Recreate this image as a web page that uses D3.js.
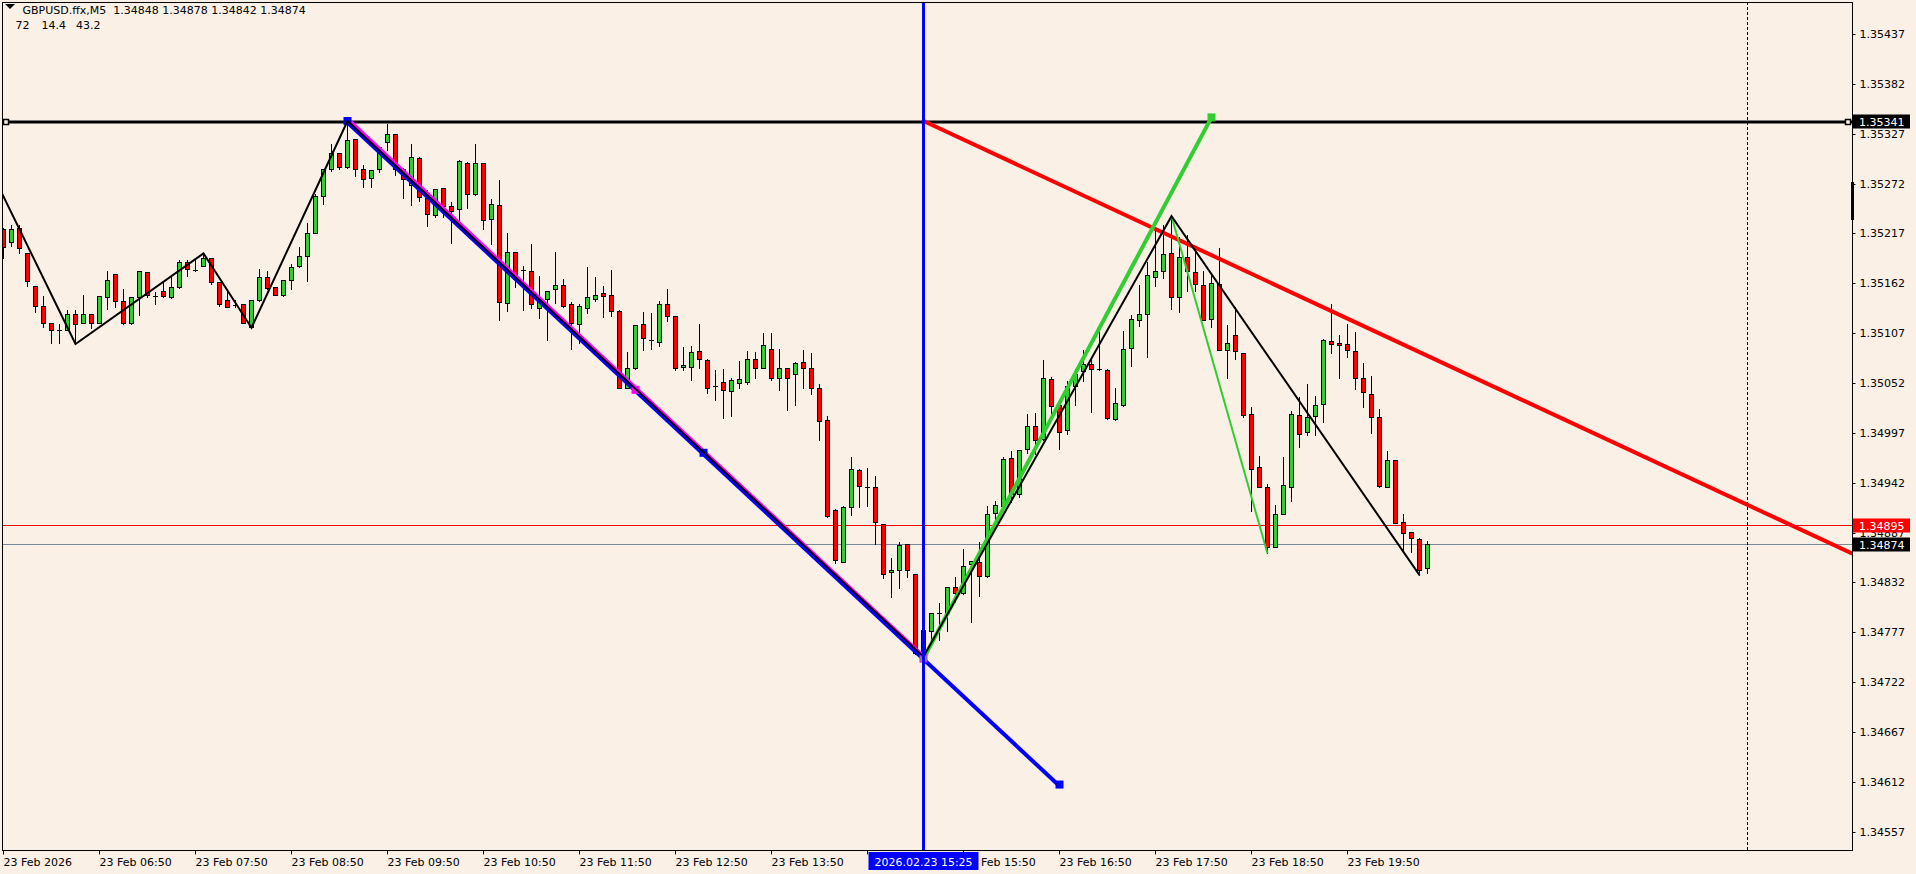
<!DOCTYPE html>
<html><head><meta charset="utf-8">
<script src="https://cdn.jsdelivr.net/npm/d3@7"></script>
<style>
html,body{margin:0;padding:0;background:#FAF0E6;overflow:hidden}
svg{display:block}
text{font-family:"DejaVu Sans",sans-serif;font-size:11px;fill:#000}
</style></head><body>
<svg id="c" width="1916" height="874"></svg>
<script>
const symbol = "GBPUSD.ffx,M5";
const headerValues = ["72", "14.4", "43.2"];

const open = [1.35222,1.35207,1.35223,1.35195,1.35159,1.35137,1.35118,1.35111,1.35110,1.35128,
1.35118,1.35128,1.35118,1.35147,1.35172,1.35142,1.35118,1.35147,1.35174,1.35148,
1.35153,1.35147,1.35158,1.35186,1.35177,1.35181,1.35190,1.35163,1.35144,1.35138,
1.35139,1.35114,1.35144,1.35169,1.35158,1.35149,1.35166,1.35181,1.35192,1.35217,
1.35258,1.35288,1.35306,1.35290,1.35321,1.35288,1.35278,1.35288,1.35318,1.35327,
1.35288,1.35270,1.35300,1.35256,1.35237,1.35267,1.35247,1.35244,1.35295,1.35260,
1.35295,1.35233,1.35248,1.35140,1.35196,1.35177,1.35176,1.35135,1.35145,1.35156,
1.35160,1.35139,1.35117,1.35135,1.35145,1.35151,1.35149,1.35131,1.35046,1.35069,
1.35117,1.35099,1.35097,1.35139,1.35126,1.35070,1.35070,1.35087,1.35077,1.35049,
1.35053,1.35043,1.35052,1.35053,1.35078,1.35068,1.35090,1.35057,1.35068,1.35062,
1.35075,1.35068,1.35046,1.35011,1.34912,1.34855,1.34915,1.34956,1.34937,1.34937,
1.34896,1.34843,1.34846,1.34874,1.34841,1.34756,1.34778,1.34798,1.34798,1.34827,
1.34820,1.34852,1.34854,1.34839,1.34909,1.34916,1.34969,1.34930,1.34979,1.35005,
1.34990,1.35056,1.35028,1.35000,1.35049,1.35065,1.35073,1.35067,1.35066,1.35012,
1.35028,1.35091,1.35122,1.35128,1.35169,1.35175,1.35195,1.35147,1.35191,1.35174,
1.35160,1.35123,1.35161,1.35088,1.35105,1.35085,1.35018,1.34959,1.34937,1.34871,
1.34907,1.34937,1.35017,1.34998,1.35016,1.35029,1.35098,1.35096,1.35095,1.35087,
1.35058,1.35040,1.35014,1.34937,1.34967,1.34899,1.34888,1.34880,1.34848];

const high = [1.35223,1.35226,1.35226,1.35195,1.35159,1.35148,1.35118,1.35117,1.35133,1.35133,
1.35149,1.35128,1.35148,1.35176,1.35172,1.35156,1.35147,1.35176,1.35174,1.35152,
1.35164,1.35170,1.35188,1.35188,1.35188,1.35195,1.35190,1.35163,1.35155,1.35144,
1.35139,1.35144,1.35178,1.35176,1.35158,1.35166,1.35183,1.35202,1.35228,1.35261,
1.35288,1.35316,1.35306,1.35341,1.35321,1.35292,1.35287,1.35312,1.35338,1.35327,
1.35289,1.35316,1.35301,1.35265,1.35266,1.35267,1.35252,1.35298,1.35296,1.35316,
1.35295,1.35255,1.35276,1.35217,1.35196,1.35181,1.35205,1.35170,1.35153,1.35196,
1.35167,1.35141,1.35139,1.35180,1.35169,1.35159,1.35177,1.35133,1.35086,1.35116,
1.35130,1.35129,1.35142,1.35156,1.35126,1.35092,1.35093,1.35117,1.35078,1.35066,
1.35067,1.35057,1.35076,1.35087,1.35086,1.35107,1.35107,1.35089,1.35068,1.35075,
1.35088,1.35085,1.35051,1.35016,1.34913,1.34916,1.34970,1.34957,1.34958,1.34949,
1.34896,1.34859,1.34877,1.34874,1.34841,1.34789,1.34798,1.34809,1.34827,1.34838,
1.34869,1.34856,1.34877,1.34916,1.34922,1.34970,1.34977,1.34978,1.35018,1.35019,
1.35077,1.35059,1.35028,1.35054,1.35067,1.35088,1.35078,1.35110,1.35067,1.35046,
1.35109,1.35127,1.35160,1.35185,1.35224,1.35226,1.35236,1.35213,1.35215,1.35199,
1.35176,1.35171,1.35201,1.35116,1.35136,1.35085,1.35026,1.34971,1.34941,1.34917,
1.34970,1.35021,1.35037,1.35051,1.35038,1.35100,1.35139,1.35105,1.35117,1.35108,
1.35074,1.35060,1.35023,1.34977,1.34967,1.34907,1.34888,1.34881,1.34878];

const low = [1.35190,1.35203,1.35195,1.35159,1.35130,1.35114,1.35096,1.35096,1.35110,1.35095,
1.35118,1.35113,1.35118,1.35134,1.35136,1.35117,1.35117,1.35127,1.35147,1.35139,
1.35147,1.35146,1.35157,1.35170,1.35176,1.35181,1.35161,1.35137,1.35136,1.35136,
1.35118,1.35113,1.35143,1.35156,1.35149,1.35148,1.35156,1.35180,1.35164,1.35217,
1.35250,1.35286,1.35288,1.35289,1.35280,1.35268,1.35268,1.35285,1.35309,1.35282,
1.35256,1.35248,1.35253,1.35225,1.35235,1.35235,1.35206,1.35228,1.35245,1.35259,
1.35222,1.35205,1.35122,1.35131,1.35158,1.35132,1.35135,1.35124,1.35099,1.35140,
1.35136,1.35090,1.35096,1.35129,1.35143,1.35125,1.35126,1.35046,1.35046,1.35067,
1.35088,1.35090,1.35093,1.35120,1.35066,1.35066,1.35055,1.35069,1.35041,1.35033,
1.35013,1.35016,1.35047,1.35051,1.35057,1.35068,1.35055,1.35044,1.35022,1.35028,
1.35047,1.35040,1.34989,1.34904,1.34853,1.34854,1.34906,1.34915,1.34916,1.34874,
1.34837,1.34816,1.34826,1.34838,1.34753,1.34750,1.34768,1.34768,1.34778,1.34810,
1.34819,1.34788,1.34817,1.34838,1.34901,1.34916,1.34921,1.34926,1.34975,1.34974,
1.34989,1.35011,1.34979,1.34996,1.35028,1.35054,1.35020,1.35066,1.35012,1.35011,
1.35027,1.35071,1.35115,1.35081,1.35159,1.35168,1.35134,1.35130,1.35153,1.35153,
1.35121,1.35114,1.35088,1.35057,1.35079,1.35015,1.34911,1.34937,1.34864,1.34871,
1.34907,1.34922,1.34981,1.34995,1.34995,1.35009,1.35085,1.35057,1.35081,1.35045,
1.35025,1.34997,1.34937,1.34937,1.34897,1.34867,1.34866,1.34840,1.34842];

const close = [1.35202,1.35222,1.35201,1.35165,1.35137,1.35118,1.35111,1.35111,1.35128,1.35117,
1.35128,1.35118,1.35148,1.35166,1.35143,1.35118,1.35147,1.35176,1.35149,1.35148,
1.35148,1.35158,1.35185,1.35178,1.35177,1.35190,1.35163,1.35139,1.35136,1.35138,
1.35118,1.35144,1.35169,1.35157,1.35149,1.35166,1.35180,1.35192,1.35217,1.35258,
1.35288,1.35306,1.35290,1.35320,1.35288,1.35277,1.35287,1.35312,1.35327,1.35288,
1.35277,1.35301,1.35257,1.35238,1.35266,1.35247,1.35242,1.35297,1.35261,1.35295,
1.35232,1.35249,1.35141,1.35196,1.35167,1.35177,1.35139,1.35146,1.35153,1.35160,
1.35137,1.35118,1.35137,1.35147,1.35149,1.35148,1.35131,1.35047,1.35069,1.35116,
1.35102,1.35099,1.35139,1.35126,1.35068,1.35072,1.35086,1.35078,1.35047,1.35049,
1.35044,1.35055,1.35056,1.35079,1.35068,1.35094,1.35057,1.35068,1.35058,1.35074,
1.35068,1.35047,1.35010,1.34905,1.34857,1.34915,1.34957,1.34938,1.34937,1.34899,
1.34841,1.34846,1.34873,1.34846,1.34754,1.34780,1.34798,1.34798,1.34827,1.34820,
1.34850,1.34856,1.34839,1.34908,1.34917,1.34968,1.34929,1.34978,1.35005,1.34989,
1.35057,1.35027,1.34998,1.35049,1.35062,1.35073,1.35067,1.35067,1.35013,1.35030,
1.35089,1.35123,1.35128,1.35171,1.35176,1.35194,1.35147,1.35191,1.35175,1.35161,
1.35122,1.35162,1.35088,1.35096,1.35087,1.35017,1.34957,1.34937,1.34871,1.34907,
1.34939,1.35018,1.34996,1.35015,1.35028,1.35099,1.35095,1.35094,1.35088,1.35058,
1.35042,1.35015,1.34938,1.34967,1.34898,1.34886,1.34881,1.34846,1.34874];

const priceTicks = [1.35437,1.35382,1.35327,1.35272,1.35217,1.35162,1.35107,1.35052,1.34997,
  1.34942,1.34887,1.34832,1.34777,1.34722,1.34667,1.34612,1.34557];
const timeTickIdx = [0,12,24,36,48,60,72,84,96,108,120,132,144,156,168];
// the 14:50 label sits fully under the highlighted time label, so it is left empty
const timeTickLabels = ["23 Feb 2026","23 Feb 06:50","23 Feb 07:50","23 Feb 08:50","23 Feb 09:50",
  "23 Feb 10:50","23 Feb 11:50","23 Feb 12:50","23 Feb 13:50","","23 Feb 15:50",
  "23 Feb 16:50","23 Feb 17:50","23 Feb 18:50","23 Feb 19:50"];

const hLinePrice = 1.35341;
const askPrice = 1.34895;
const bidPrice = 1.34874;
const vLineIdx = 115;
const vLineLabel = "2026.02.23 15:25";
const shiftIdx = 218;

const zigzagIdx = [-3, 9, 25, 31, 43, 115, 146, 177];
const zigzagPrice = [1.35312, 1.35095, 1.35195, 1.35113, 1.35341, 1.34750, 1.35236, 1.34840];
const redRayIdx = [115, 178];
const redRayPrice = [1.35341, 1.35082];
const greenLineIdx = [115, 151];
const greenLinePrice = [1.34748, 1.35345];
const greenThinIdx = [146, 158];
const greenThinPrice = [1.35236, 1.34864];
const magentaIdx = [43, 115];
const magentaPrice = [1.35341, 1.34748];
const blueIdx = [43, 132];
const bluePrice = [1.35341, 1.34609];

// ---------- layout ----------
const W = 1916, H = 874;
const PL = 2, PT = 2, PR = 1852, PB = 851;
const BG = "#FAF0E6";
const GREEN = "#32CD32", RED = "#FF0000", BLUE = "#0000FF", MAG = "#FF00FF";

const x = d3.scaleLinear().domain([0, shiftIdx]).range([3, 1747]);
const y = d3.scaleLinear().domain([1.34557, 1.35437]).range([831.7, 34]);
const sy = v => Math.round(y(v)) + 0.5;
const cxOf = i => x(i) + 0.5;

const svg = d3.select("#c");
svg.append("rect").attr("width", W).attr("height", H).attr("fill", BG);
svg.append("defs").append("clipPath").attr("id", "plot")
  .append("rect").attr("x", PL + 0.5).attr("y", PT + 0.5).attr("width", PR - PL - 0.5).attr("height", PB - PT - 1);

const g = svg.append("g").attr("clip-path", "url(#plot)");

// horizontal price lines (ask & bid)
g.append("line").attr("x1", PL).attr("x2", PR).attr("y1", sy(bidPrice)).attr("y2", sy(bidPrice))
  .attr("stroke", "#778899").attr("stroke-width", 1);
g.append("line").attr("x1", PL).attr("x2", PR).attr("y1", sy(askPrice)).attr("y2", sy(askPrice))
  .attr("stroke", RED).attr("stroke-width", 1);

// chart shift dashed line
g.append("line").attr("x1", cxOf(shiftIdx)).attr("x2", cxOf(shiftIdx)).attr("y1", PT).attr("y2", PB)
  .attr("stroke", "#000").attr("stroke-width", 1).attr("stroke-dasharray", "3,2");

// candles
const idx = d3.range(open.length);
const cg = g.append("g");
cg.selectAll("line.wick").data(idx).join("line").attr("class", "wick")
  .attr("x1", cxOf).attr("x2", cxOf)
  .attr("y1", i => sy(high[i]) - 0.5).attr("y2", i => sy(low[i]) + 0.5)
  .attr("stroke", "#000").attr("stroke-width", 1);
idx.forEach(i => {
  const top = sy(Math.max(open[i], close[i]));
  const bot = sy(Math.min(open[i], close[i]));
  const cx = cxOf(i);
  if (bot - top < 1) {
    cg.append("line").attr("x1", cx - 2.5).attr("x2", cx + 2.5).attr("y1", top).attr("y2", top)
      .attr("stroke", "#000").attr("stroke-width", 1);
  } else {
    cg.append("rect").attr("x", cx - 2).attr("y", top).attr("width", 4).attr("height", bot - top)
      .attr("fill", close[i] > open[i] ? GREEN : RED).attr("stroke", "#000").attr("stroke-width", 1);
  }
});

// helper for drawing segments from data anchors
const lineGen = d3.line().x(d => x(d[0]) + 0.5).y(d => y(d[1]));
function seg(idxs, prices, color, width, dx = 0, dy = 0) {
  return g.append("path").datum(idxs.map((v, k) => [v, prices[k]]))
    .attr("d", lineGen).attr("fill", "none").attr("stroke", color).attr("stroke-width", width)
    .attr("stroke-linejoin", "miter").attr("transform", `translate(${dx},${dy})`);
}
function handle(i, p, color, size = 7) {
  g.append("rect").attr("x", x(i) + 0.5 - size / 2).attr("y", y(p) - size / 2)
    .attr("width", size).attr("height", size).attr("fill", color);
}

// black horizontal line
g.append("line").attr("x1", PL).attr("x2", PR).attr("y1", sy(hLinePrice) + 0.5).attr("y2", sy(hLinePrice) + 0.5)
  .attr("stroke", "#000").attr("stroke-width", 3);
[PL + 4, PR - 4].forEach(px => {
  g.append("rect").attr("x", px - 2.5).attr("y", sy(hLinePrice) - 2).attr("width", 5).attr("height", 5)
    .attr("fill", BG).attr("stroke", "#000").attr("stroke-width", 1.5);
});

// red ray extended to right edge
const slope = (redRayPrice[1] - redRayPrice[0]) / (redRayIdx[1] - redRayIdx[0]);
const edgeIdx = x.invert(PR);
seg([redRayIdx[0], edgeIdx], [redRayPrice[0], redRayPrice[0] + slope * (edgeIdx - redRayIdx[0])], RED, 4);

// green thick line
seg(greenLineIdx, greenLinePrice, GREEN, 4);
handle(greenLineIdx[1], greenLinePrice[1], GREEN, 8);

// magenta + blue trend lines
seg(magentaIdx, magentaPrice, MAG, 4, 1, -1);
seg(blueIdx, bluePrice, BLUE, 4, -0.5, 1);
handle((magentaIdx[0] + magentaIdx[1]) / 2, (magentaPrice[0] + magentaPrice[1]) / 2, MAG, 8);
handle(magentaIdx[1], magentaPrice[1], MAG, 8);
handle(greenLineIdx[0], greenLinePrice[0], GREEN, 6);
handle(blueIdx[0], bluePrice[0], BLUE, 8);
handle((blueIdx[0] + blueIdx[1]) / 2, (bluePrice[0] + bluePrice[1]) / 2, BLUE, 8);
handle(blueIdx[1], bluePrice[1], BLUE, 8);

// thin green line
seg(greenThinIdx, greenThinPrice, GREEN, 2);

// zigzag
seg(zigzagIdx, zigzagPrice, "#000", 2);

// blue vertical line
g.append("line").attr("x1", cxOf(vLineIdx)).attr("x2", cxOf(vLineIdx)).attr("y1", PT).attr("y2", PB + 2)
  .attr("stroke", BLUE).attr("stroke-width", 3);

// plot border
svg.append("rect").attr("x", PL + 0.5).attr("y", PT + 0.5).attr("width", PR - PL).attr("height", PB - PT - 1)
  .attr("fill", "none").attr("stroke", "#000").attr("stroke-width", 1);

// header
svg.append("path").attr("d", "M5,4 L15,4 L10,9 Z").attr("fill", "#000");
const fmt = d3.format(".5f");
const last = open.length - 1;
svg.append("text").attr("x", 22.5).attr("y", 14).attr("xml:space", "preserve").style("white-space", "pre")
  .text(`${symbol}  ${fmt(open[last])} ${fmt(high[last])} ${fmt(low[last])} ${fmt(close[last])}`);
const hvX = [15.5, 41.5, 76];
headerValues.forEach((v, k) => svg.append("text").attr("x", hvX[k]).attr("y", 29).text(v));

// right price axis
const yAxis = d3.axisRight(y).tickValues(priceTicks).tickFormat(fmt).tickSizeInner(3).tickSizeOuter(0).tickPadding(4);
const ya = svg.append("g").attr("transform", `translate(${PR + 0.5},0)`).call(yAxis);
ya.select(".domain").remove();
ya.selectAll(".tick").attr("transform", d => `translate(0,${Math.round(y(d)) + 0.5})`);
ya.selectAll(".tick line").attr("stroke", "#000");
ya.selectAll(".tick text").attr("fill", "#000").attr("font-family", "DejaVu Sans").attr("font-size", 11);
svg.append("rect").attr("x", PR - 1).attr("y", 182).attr("width", 3).attr("height", 38).attr("fill", "#000");

function priceBox(p, fill) {
  const cy = sy(p);
  svg.append("rect").attr("x", PR + 1).attr("y", cy - 7).attr("width", 57).attr("height", 14).attr("fill", fill);
  svg.append("text").attr("x", PR + 7).attr("y", cy + 4).attr("fill", "#fff").style("fill", "#fff").text(fmt(p));
}
priceBox(hLinePrice, "#000");
priceBox(askPrice, RED);
priceBox(bidPrice, "#000");

// bottom time axis
const xAxis = d3.axisBottom(x).tickValues(timeTickIdx).tickFormat((d, k) => timeTickLabels[k])
  .tickSizeInner(4).tickSizeOuter(0);
const xa = svg.append("g").attr("transform", `translate(0,${PB - 0.5})`).call(xAxis);
xa.select(".domain").remove();
xa.selectAll(".tick").attr("transform", d => `translate(${x(d) + 0.5},0)`);
xa.selectAll(".tick line").attr("stroke", "#000");
xa.selectAll(".tick text").attr("text-anchor", "start").attr("x", 0).attr("y", 15.5).attr("dy", null)
  .attr("fill", "#000").attr("font-family", "DejaVu Sans").attr("font-size", 11);

// blue time label
const vx = cxOf(vLineIdx);
svg.append("rect").attr("x", vx - 55).attr("y", PB + 1).attr("width", 110).attr("height", 18).attr("fill", BLUE);
svg.append("text").attr("x", vx).attr("y", PB + 15).attr("text-anchor", "middle").style("fill", "#fff").text(vLineLabel);
</script>
</body></html>
